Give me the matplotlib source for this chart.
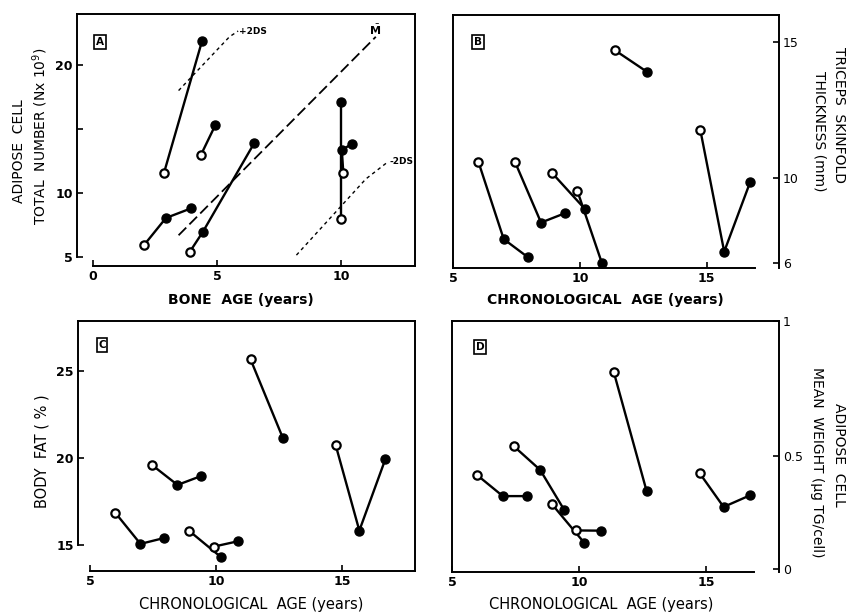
import numpy as np
import matplotlib
matplotlib.use("Agg")
import matplotlib.pyplot as plt
from matplotlib.ticker import NullLocator

W, H = 848, 616

# ---- data -------------------------------------------------------------
# panel A: bone age (years) vs adipose cell number (x 10^9), one list per child
bone_age = [[2.86, 4.40], [4.35, 4.93], [2.06, 2.94, 3.95],
            [3.90, 4.43, 6.50], [10.0, 10.0], [10.09, 10.03, 10.43]]
cell_number = [[11.56, 21.9], [12.97, 15.3], [5.94, 8.05, 8.8],
               [5.4, 6.97, 13.9], [7.97, 17.13], [11.59, 13.36, 13.83]]

# reference curves in panel A
mean_x = [3.45, 11.4]
mean_y = [6.7, 22.2]
plus2sd_x = [3.45, 5.5, 5.85]
plus2sd_y = [18.0, 22.2, 22.65]
minus2sd_x = [8.2, 11.0, 11.9]
minus2sd_y = [5.15, 11.1, 12.45]

# panels B-D: chronological age (years), one list per child
chrono_age = [[6.0, 7.0, 7.95], [7.44, 8.47, 9.41], [8.92, 10.2],
              [9.9, 10.87], [11.37, 12.66], [14.75, 15.69, 16.72]]
triceps = [[10.6, 7.12, 6.27], [10.6, 7.9, 8.34], [10.17, 8.54],
           [9.40, 5.99], [14.71, 13.9], [11.76, 6.53, 9.83]]
body_fat = [[16.87, 15.09, 15.43], [19.62, 18.46, 18.97], [15.85, 14.33],
            [14.93, 15.24], [25.64, 21.12], [20.74, 15.85, 19.92]]
cell_weight = [[0.415, 0.323, 0.323], [0.536, 0.439, 0.263], [0.289, 0.117],
               [0.171, 0.170], [0.81, 0.345], [0.424, 0.275, 0.326]]

# the printed right-hand axes of B and D are not evenly spaced
b_knots_val = [5, 6, 10, 15, 17]
b_knots_pos = [-21.25, 0, 85, 221, 275.4]
d_knots_val = [-0.1, 0, 0.5, 1, 1.1]
d_knots_pos = [-22.4, 0, 112, 246, 272.8]


def rect(l, t, r, b):
    return [l / W, 1 - b / H, (r - l) / W, (b - t) / H]


def ftext(px, py, s, **kw):
    fig.text(px / W, 1 - py / H, s, **kw)


def draw_series(ax, xs, ys):
    for x, y in zip(xs, ys):
        ax.plot(x, y, color='k', lw=1.7, zorder=2)
        ax.plot(x[:1], y[:1], 'o', ms=6, mfc='white', mec='k', mew=1.6, zorder=3)
        ax.plot(x[1:], y[1:], 'o', ms=6.5, mfc='k', mec='k', zorder=3)


def style(ax):
    for s in ax.spines.values():
        s.set_linewidth(1.4)
    ax.tick_params(direction='in', length=4, width=1.2, pad=3)
    for lab in ax.get_xticklabels() + ax.get_yticklabels():
        lab.set_fontweight('bold')
        lab.set_fontsize(9)


def knot_scale(vals, pos):
    fwd = lambda v: np.interp(v, vals, pos)
    inv = lambda p: np.interp(p, pos, vals)
    return fwd, inv


fig = plt.figure(figsize=(W / 100, H / 100), dpi=100)

# ---- A ----------------------------------------------------------------
axA = fig.add_axes(rect(77, 14, 415, 266))
draw_series(axA, bone_age, cell_number)
axA.plot(mean_x, mean_y, color='k', lw=1.3, ls=(0, (6, 2.5)))
axA.plot(plus2sd_x, plus2sd_y, color='k', lw=1.0, ls=(0, (2.5, 2.5)))
axA.plot(minus2sd_x, minus2sd_y, color='k', lw=1.0, ls=(0, (2.5, 2.5)))
axA.text(5.9, 22.65, '+2DS', fontsize=6.5, fontweight='bold', va='center')
axA.text(11.95, 12.5, '-2DS', fontsize=6.5, fontweight='bold', va='center')
axA.text(11.37, 22.7, r'$\bar{\mathbf{M}}$', fontsize=8, ha='center', va='center')
axA.set_xlim(-0.645, 12.98)
axA.set_ylim(4.3, 23.98)
axA.set_xticks([0, 5, 10])
axA.set_yticks([5, 10, 15, 20])
axA.set_yticklabels(['5', '10', '', '20'])
axA.spines['left'].set_bounds(5, 23.98)
axA.spines['bottom'].set_bounds(0, 12.98)
style(axA)

# ---- B ----------------------------------------------------------------
axB = fig.add_axes(rect(453, 15, 779, 268))
draw_series(axB, chrono_age, triceps)
axB.set_yscale('function', functions=knot_scale(b_knots_val, b_knots_pos))
axB.set_xlim(5.0, 17.85)
axB.set_ylim(5.76, 16.0)
axB.set_xticks([5, 10, 15])
axB.yaxis.tick_right()
axB.set_yticks([6, 10, 15])
axB.yaxis.set_minor_locator(NullLocator())
axB.spines['bottom'].set_bounds(5, 16.9)
style(axB)
for lab in axB.get_yticklabels():
    lab.set_fontweight('normal')

# ---- C ----------------------------------------------------------------
axC = fig.add_axes(rect(78, 321, 415, 571))
draw_series(axC, chrono_age, body_fat)
axC.set_xlim(4.52, 17.9)
axC.set_ylim(13.54, 27.83)
axC.set_xticks([5, 10, 15])
axC.set_yticks([15, 20, 25])
axC.spines['left'].set_bounds(15, 27.83)
axC.spines['bottom'].set_bounds(5, 17.9)
style(axC)

# ---- D ----------------------------------------------------------------
axD = fig.add_axes(rect(452, 321, 779, 572))
draw_series(axD, chrono_age, cell_weight)
axD.set_yscale('function', functions=knot_scale(d_knots_val, d_knots_pos))
axD.set_xlim(5.0, 17.87)
axD.set_ylim(-0.013, 1.0)
axD.set_xticks([5, 10, 15])
axD.yaxis.tick_right()
axD.set_yticks([0, 0.5, 1])
axD.set_yticklabels(['0', '0.5', '1'])
axD.yaxis.set_minor_locator(NullLocator())
axD.spines['bottom'].set_bounds(5, 16.9)
style(axD)
for lab in axD.get_yticklabels():
    lab.set_fontweight('normal')

# ---- panel letters ----------------------------------------------------
box = dict(boxstyle='square,pad=0.15', fc='white', ec='k', lw=1.2)
for px, py, s in [(100, 42, 'A'), (478, 42, 'B'), (102, 345, 'C'), (480, 347, 'D')]:
    ftext(px, py, s, fontsize=7.5, fontweight='bold', ha='center', va='center', bbox=box)

# ---- axis labels ------------------------------------------------------
ftext(19, 151, 'ADIPOSE  CELL', fontsize=10, rotation=90, ha='center', va='center')
ftext(40, 136, 'TOTAL  NUMBER (Nx 10$^9$)', fontsize=10, rotation=90, ha='center', va='center')
ftext(241, 300, 'BONE  AGE (years)', fontsize=10, fontweight='bold', ha='center', va='center')

ftext(839, 115, 'TRICEPS  SKINFOLD', fontsize=10, rotation=-90, ha='center', va='center')
ftext(819, 131, 'THICKNESS (mm)', fontsize=10, rotation=-90, ha='center', va='center')
ftext(605, 300, 'CHRONOLOGICAL  AGE (years)', fontsize=10, fontweight='bold', ha='center', va='center')

ftext(42, 451, 'BODY  FAT ( % )', fontsize=10.5, rotation=90, ha='center', va='center')
ftext(251, 605, 'CHRONOLOGICAL  AGE (years)', fontsize=10.5, ha='center', va='center')

ftext(839, 455, 'ADIPOSE  CELL', fontsize=10, rotation=-90, ha='center', va='center')
ftext(817, 462, 'MEAN  WEIGHT (µg TG/cell)', fontsize=10, rotation=-90, ha='center', va='center')
ftext(601, 605, 'CHRONOLOGICAL  AGE (years)', fontsize=10.5, ha='center', va='center')

fig.savefig('out.png', dpi=100)
